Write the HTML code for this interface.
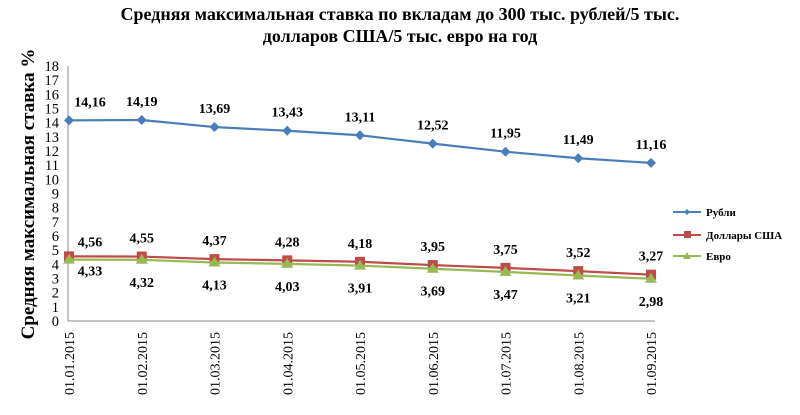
<!DOCTYPE html>
<html><head><meta charset="utf-8"><style>
body{margin:0;background:#fff;width:800px;height:410px;overflow:hidden}
svg{font-family:"Liberation Serif","DejaVu Serif",serif}
</style></head><body>
<svg id="chart" width="800" height="410" xmlns="http://www.w3.org/2000/svg">
<text x="400" y="20" font-size="18" font-weight="bold" text-anchor="middle">Средняя максимальная ставка по вкладам до 300 тыс. рублей/5 тыс.</text>
<text x="400" y="42" font-size="18" font-weight="bold" text-anchor="middle">долларов США/5 тыс. евро на год</text>
<text transform="translate(34,194) rotate(-90)" font-size="19" font-weight="bold" text-anchor="middle">Средняя максимальная ставка  %</text>
<g id="axes"></g><g id="series"></g>
<g font-size="11" font-weight="bold">
<line x1="673" y1="212" x2="701" y2="212" stroke="#4a7ebb" stroke-width="2"/><path d="M687 209l3 3-3 3-3-3z" fill="#4a7ebb"/>
<text x="706" y="216">Рубли</text>
<line x1="673" y1="235" x2="701" y2="235" stroke="#be4b48" stroke-width="2"/><rect x="684" y="231" width="7" height="7" fill="#be4b48"/>
<text x="706" y="239">Доллары  США</text>
<line x1="673" y1="256" x2="701" y2="256" stroke="#98b954" stroke-width="2"/><path d="M687 252l4 7h-8z" fill="#98b954"/>
<text x="706" y="260">Евро</text>
</g>
</svg>
<script>
const categories=["01.01.2015","01.02.2015","01.03.2015","01.04.2015","01.05.2015","01.06.2015","01.07.2015","01.08.2015","01.09.2015"];
const rubles=[14.16,14.19,13.69,13.43,13.11,12.52,11.95,11.49,11.16];
const usd=[4.56,4.55,4.37,4.28,4.18,3.95,3.75,3.52,3.27];
const eur=[4.33,4.32,4.13,4.03,3.91,3.69,3.47,3.21,2.98];
const yTicks=[0,1,2,3,4,5,6,7,8,9,10,11,12,13,14,15,16,17,18];
const NS="http://www.w3.org/2000/svg";
const X=i=>69+i*72.75, Y=v=>321-v*(255/18);
function mk(p,t,a){const e=document.createElementNS(NS,t);for(const k in a)e.setAttribute(k,a[k]);p.appendChild(e);return e;}
const ax=document.getElementById('axes'), sg=document.getElementById('series');
const yl=mk(ax,'line',{x1:68,y1:Y(18),x2:68,y2:321,stroke:'#888'});


const xl=mk(ax,'line',{x1:68,y1:321,x2:655,y2:321,stroke:'#888'});


yTicks.forEach(v=>{const t=mk(ax,'text',{x:59,y:Y(v)+5,'font-size':14.5,'text-anchor':'end'});t.textContent=v;

});
categories.forEach((c,i)=>{const t=mk(ax,'text',{transform:`translate(${X(i)+5},332) rotate(-90)`,'font-size':14,'text-anchor':'end'});t.textContent=c;

});
function series(d,col,name,mark,dy){
 const pl=mk(sg,'polyline',{points:d.map((v,i)=>X(i)+','+Y(v)).join(' '),fill:'none',stroke:col,'stroke-width':2.2});
 
 
 d.forEach((v,i)=>{const x=X(i),y=Y(v);let m;
  if(mark==='d')m=mk(sg,'path',{d:`M${x} ${y-5}l5 5-5 5-5-5z`,fill:col});
  else if(mark==='s')m=mk(sg,'rect',{x:x-5,y:y-5,width:10,height:10,fill:col});
  else m=mk(sg,'path',{d:`M${x} ${y-6}l6 10h-12z`,fill:col});
  
  
  const t=mk(sg,'text',{x:x+(i===0?21:0),y:y+(typeof dy==='function'?dy(i):dy),'font-size':14,'font-weight':'bold','text-anchor':'middle'});
  t.textContent=v.toFixed(2).replace('.',',');
  
  });
}
series(rubles,'#4a7ebb','rubles','d',-14);
series(usd,'#be4b48','usd','s',i=>i===0?-10:-14);
series(eur,'#98b954','eur','t',i=>i===0?16:27);
</script>
</body></html>
